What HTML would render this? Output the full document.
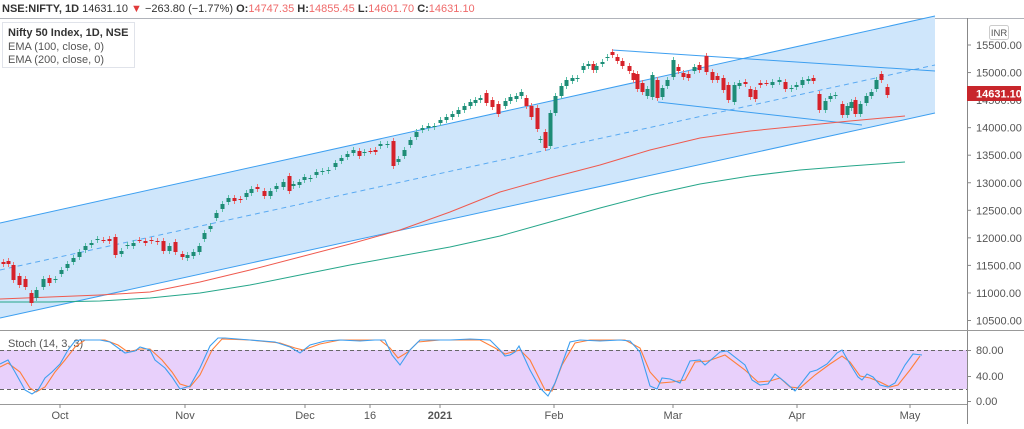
<!DOCTYPE html>
<html><head><meta charset="utf-8">
<style>
html,body{margin:0;padding:0;background:#fff;}
body{width:1024px;height:424px;overflow:hidden;font-family:"Liberation Sans",sans-serif;}
svg text{font-family:"Liberation Sans",sans-serif;}
</style></head>
<body>
<svg id="s" width="1024" height="424" xmlns="http://www.w3.org/2000/svg">
<rect width="1024" height="424" fill="#fff"/>
<!-- header -->
<text x="2" y="12" font-size="11" fill="#333"><tspan font-weight="bold">NSE:NIFTY, 1D</tspan> 14631.10 <tspan fill="#e03a3a">▼</tspan> −263.80 (−1.77%) <tspan font-weight="bold">O:</tspan><tspan fill="#ef6a6a">14747.35</tspan> <tspan font-weight="bold">H:</tspan><tspan fill="#ef6a6a">14855.45</tspan> <tspan font-weight="bold">L:</tspan><tspan fill="#ef6a6a">14601.70</tspan> <tspan font-weight="bold">C:</tspan><tspan fill="#ef6a6a">14631.10</tspan></text>
<line x1="0" y1="18.5" x2="1024" y2="18.5" stroke="#b0b3ba"/>
<!-- channel -->
<polygon points="0,223 935,16 935,113 0,318" fill="#cfe6fb"/>
<line x1="0" y1="223" x2="935" y2="16" stroke="#3d9ff0" stroke-width="1"/>
<line x1="0" y1="318" x2="935" y2="113" stroke="#3d9ff0" stroke-width="1"/>
<line x1="0" y1="270" x2="935" y2="65" stroke="#5aaaf2" stroke-width="1" stroke-dasharray="5,4"/>
<line x1="612" y1="50" x2="935" y2="71" stroke="#3d9ff0" stroke-width="1"/>
<line x1="658" y1="102" x2="862" y2="125" stroke="#3d9ff0" stroke-width="1"/>
<polyline fill="none" stroke="#ef5a4f" stroke-width="1" points="0,299 50,297 100,295 150,292 200,282 250,270 300,257 350,244 400,230 450,212 500,192 550,178 600,165 650,150 700,138 750,131 800,126 850,121 905,116"/>
<polyline fill="none" stroke="#26a68a" stroke-width="1" points="0,302 50,302 100,301 150,298 200,293 250,285 300,275 350,265 400,256 450,247 500,236 550,222 600,208 650,195 700,184 750,176 800,170 850,166 905,162"/>
<g id="candles"></g>
<!-- legend -->
<rect x="2.5" y="22.5" width="132" height="45" fill="#fff" fill-opacity="0.6" stroke="#e0e3ea"/>
<text x="8" y="36" font-size="11" fill="#333" font-weight="bold">Nifty 50 Index, 1D, NSE</text>
<text x="8" y="50" font-size="11" fill="#555">EMA (100, close, 0)</text>
<text x="8" y="63" font-size="11" fill="#555">EMA (200, close, 0)</text>
<!-- axis -->
<line x1="967.5" y1="18" x2="967.5" y2="424" stroke="#888"/>
<line x1="0" y1="330.5" x2="1024" y2="330.5" stroke="#999"/>
<line x1="0" y1="404.5" x2="967" y2="404.5" stroke="#999"/>
<rect x="989.5" y="25.5" width="19" height="14" rx="2" fill="#fff" stroke="#ccc"/>
<text x="999" y="36" font-size="9.5" fill="#555" text-anchor="middle">INR</text>
<g id="yax" font-size="11" fill="#555"></g>
<rect x="967" y="86" width="54" height="15" fill="#c8262b"/>
<text x="976" y="97.5" font-size="11" fill="#fff" font-weight="bold">14631.10</text>
<!-- stoch -->
<rect x="0" y="350" width="967" height="39" fill="#e8d0fb"/>
<line x1="0" y1="350.5" x2="967" y2="350.5" stroke="#666" stroke-dasharray="4,3"/>
<line x1="0" y1="389.5" x2="967" y2="389.5" stroke="#666" stroke-dasharray="4,3"/>
<text x="8" y="347" font-size="11" fill="#555">Stoch (14, 3, 3)</text>
<polyline fill="none" stroke="#ff7f3a" stroke-width="1.1" points="0,367 8,363 20,372 30,388 36,392 45,387 55,372 65,360 75,347 85,340 105,340 118,345 128,352 140,349 150,349 162,360 172,372 180,384 190,387 200,375 212,350 222,339 250,340 280,343 295,348 303,350 320,344 340,340 380,340 390,348 398,358 408,352 418,342 440,340 480,340 495,348 505,354 520,350 530,360 545,390 552,391 562,365 575,343 590,340 625,340 640,348 650,372 660,383 672,382 685,380 695,362 708,361 725,355 745,370 758,382 770,381 780,378 790,387 800,388 815,375 830,364 842,356 850,362 860,376 870,378 880,382 890,387 898,385 910,370 920,356"/>
<polyline fill="none" stroke="#3d9ff0" stroke-width="1.1" points="0,364 8,360 15,372 25,390 32,394 38,390 45,378 52,372 60,364 68,350 75,341 80,340 100,340 110,342 125,353 135,351 140,347 150,350 155,360 165,368 172,377 180,389 190,386 200,368 210,346 218,338 225,338 250,340 275,342 290,347 300,353 310,345 325,341 340,340 360,341 375,340 385,340 392,355 400,365 410,350 420,340 450,340 470,339 490,340 500,350 505,356 510,355 515,352 519,346 530,370 540,388 548,396 555,383 570,342 580,340 600,341 620,340 630,341 640,352 650,386 657,389 662,378 670,379 680,383 690,361 700,360 705,365 720,352 727,351 745,365 752,380 760,385 768,384 775,374 785,382 795,391 800,385 810,372 817,370 827,364 837,353 842,350 850,364 858,377 862,380 867,374 873,377 880,385 888,387 895,383 905,365 913,354 922,355"/>
<g font-size="11" fill="#555">
<line x1="967" y1="350.5" x2="971" y2="350.5" stroke="#888"/><text x="976" y="354">80.00</text>
<line x1="967" y1="376.5" x2="971" y2="376.5" stroke="#888"/><text x="976" y="380">40.00</text>
<line x1="967" y1="401.5" x2="971" y2="401.5" stroke="#888"/><text x="976" y="405">0.00</text>
</g>
<g id="xax" font-size="11" fill="#555" text-anchor="middle"></g>
</svg>
<script>
var NS="http://www.w3.org/2000/svg";
function el(t,a,p){var e=document.createElementNS(NS,t);for(var k in a)e.setAttribute(k,a[k]);p.appendChild(e);return e;}
var ya=document.getElementById('yax');
for(var v=15500,i=0;v>=10500;v-=500,i++){var y=45+(15500-v)*0.0551;
el('line',{x1:967,y1:y,x2:971,y2:y,stroke:'#888'},ya);
var t=el('text',{x:976,y:y+4},ya);t.textContent=v.toFixed(2);}
var xa=document.getElementById('xax');
[["Oct",60],["Nov",185],["Dec",305],["16",370],["2021",440],["Feb",554],["Mar",673],["Apr",797],["May",910]].forEach(function(d){
el('line',{x1:d[1],y1:404,x2:d[1],y2:408,stroke:'#888'},xa);
var t=el('text',{x:d[1],y:419},xa);t.textContent=d[0];if(d[0]=="2021")t.setAttribute('font-weight','bold');});
// [x, open, close]
var C=[[3,262,264],[8,261,264],[13,265,280],[19,276,285],[25,279,287],[31,293,303],[36,298,290],[43,287,279],[49,278,283],[55,280,279],[61,274,270],[67,268,264],[73,262,258],[79,257,252],[85,250,246],[91,245,243],[97,240,239],[103,240,240],[109,239,241],[115,237,255],[121,254,251],[127,246,245],[133,246,243],[139,240,240],[145,241,243],[151,240,241],[157,241,242],[163,241,251],[169,251,246],[175,242,252],[182,254,257],[187,258,255],[193,256,252],[199,252,246],[204,239,233],[210,229,226],[216,218,213],[222,209,204],[228,202,198],[234,198,201],[240,199,200],[246,197,193],[251,193,189],[257,187,189],[264,191,196],[270,196,191],[276,189,186],[283,187,182],[289,176,191],[293,186,184],[299,185,182],[304,180,177],[310,179,178],[316,175,172],[322,172,171],[328,171,170],[335,167,163],[341,161,158],[347,157,154],[353,153,150],[359,151,156],[364,153,152],[370,151,151],[375,150,152],[380,146,144],[387,145,144],[393,141,166],[398,162,159],[404,156,150],[410,145,140],[416,137,132],[422,130,128],[428,128,126],[434,127,126],[440,123,120],[446,120,117],[452,117,114],[458,114,110],[464,110,106],[470,106,102],[475,103,100],[480,100,98],[486,93,103],[492,100,107],[498,104,114],[505,106,101],[510,101,97],[516,99,96],[521,96,92],[526,98,106],[531,106,117],[537,108,129],[540,140,139],[545,132,148],[550,146,113],[555,113,96],[561,96,86],[566,86,80],[572,81,78],[577,79,78],[583,70,66],[588,66,64],[593,64,70],[596,70,66],[602,64,62],[607,58,57],[612,52,55],[617,57,61],[622,61,66],[629,66,71],[633,73,80],[637,74,89],[642,83,92],[647,96,89],[652,97,75],[657,80,98],[662,97,88],[667,86,80],[673,77,60],[678,67,71],[683,73,77],[688,74,78],[694,71,67],[699,65,70],[706,56,72],[712,72,80],[717,76,80],[723,78,90],[728,85,100],[734,102,85],[739,86,83],[745,82,84],[750,89,97],[755,90,99],[760,83,85],[766,83,83],[772,85,82],[779,82,80],[785,82,89],[791,89,88],[796,87,85],[802,85,80],[808,81,79],[813,78,81],[819,94,110],[825,110,101],[830,99,96],[835,96,95],[842,104,115],[847,115,106],[851,108,102],[855,100,114],[860,114,104],[866,103,96],[871,96,92],[876,89,80],[881,74,80],[887,87,95]];
var g=document.getElementById('candles');
C.forEach(function(c){var x=c[0],o=c[1],cl=c[2];var up=cl<o;
var col=up?'#1e8c76':'#d6222a',wc=up?'#5bbfa8':'#ef7070';
var top=Math.min(o,cl),bot=Math.max(o,cl);
el('line',{x1:x+0.5,y1:top-3,x2:x+0.5,y2:bot+3,stroke:wc},g);
el('rect',{x:x-1.5,y:top,width:4,height:Math.max(1,bot-top),fill:col},g);});
</script>
</body></html>
